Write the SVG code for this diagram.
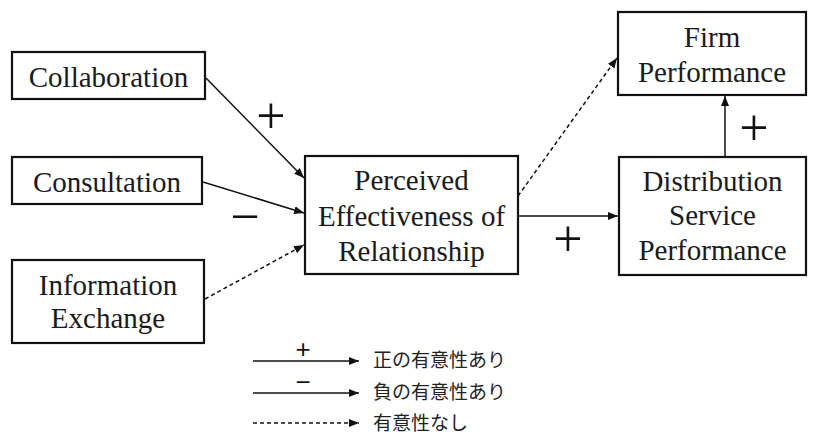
<svg xmlns="http://www.w3.org/2000/svg" width="824" height="434" viewBox="0 0 824 434">
  <style>
    .box { fill: #fff; stroke: #111; stroke-width: 2.2; }
    .lbl { font-family: 'Liberation Serif', 'Times New Roman', Times, serif; font-size: 29px; fill: #1a1a1a; text-anchor: middle; }
    .sign { font-family: 'Liberation Serif', 'Times New Roman', Times, serif; font-size: 52px; fill: #111; text-anchor: middle; }
    .edge { stroke: #111; stroke-width: 1.5; fill: none; }
    .dash { stroke-dasharray: 4 3; }
    .leg { font-family: 'Noto Sans CJK JP', 'Noto Sans', sans-serif; font-size: 19px; fill: #222; }
    .legsign { font-family: 'Liberation Sans', Arial, sans-serif; font-size: 26px; fill: #111; text-anchor: middle; }
  </style>
  <defs>
    <marker id="arrow" viewBox="0 0 10 10" refX="10" refY="5" markerWidth="10" markerHeight="10" markerUnits="userSpaceOnUse" orient="auto">
      <path d="M0,1 L10,5 L0,9 Z" fill="#111"/>
    </marker>
  </defs>

  <g id="collaboration">
    <rect class="box" x="12" y="52" width="193" height="47"/>
    <text class="lbl" x="108.5" y="87">Collaboration</text>
  </g>
  <g id="consultation">
    <rect class="box" x="12" y="157" width="190" height="47"/>
    <text class="lbl" x="107" y="192">Consultation</text>
  </g>
  <g id="information-exchange">
    <rect class="box" x="12" y="260" width="192" height="83"/>
    <text class="lbl" x="108" y="295">Information</text>
    <text class="lbl" x="108" y="328">Exchange</text>
  </g>
  <g id="perceived-effectiveness">
    <rect class="box" x="305" y="156" width="213" height="118"/>
    <text class="lbl" x="411.5" y="190">Perceived</text>
    <text class="lbl" x="411.5" y="226">Effectiveness of</text>
    <text class="lbl" x="411.5" y="261">Relationship</text>
  </g>
  <g id="firm-performance">
    <rect class="box" x="618" y="12" width="188" height="83"/>
    <text class="lbl" x="712" y="47">Firm</text>
    <text class="lbl" x="712" y="82">Performance</text>
  </g>
  <g id="distribution-service-performance">
    <rect class="box" x="619" y="157" width="187" height="118"/>
    <text class="lbl" x="712.5" y="191">Distribution</text>
    <text class="lbl" x="712.5" y="225">Service</text>
    <text class="lbl" x="712.5" y="260">Performance</text>
  </g>

  <g id="connectors">
    <line class="edge" x1="206" y1="78" x2="304" y2="178" marker-end="url(#arrow)"/>
    <line class="edge" x1="203" y1="182" x2="304" y2="213" marker-end="url(#arrow)"/>
    <line class="edge dash" x1="205" y1="299" x2="304" y2="245" marker-end="url(#arrow)"/>
    <line class="edge" x1="518" y1="216" x2="618" y2="216" marker-end="url(#arrow)"/>
    <line class="edge dash" x1="518" y1="196" x2="617" y2="58" marker-end="url(#arrow)"/>
    <line class="edge" x1="725" y1="157" x2="725" y2="96" marker-end="url(#arrow)"/>
  </g>

  <g id="signs">
    <text class="sign" x="271" y="133">+</text>
    <text class="sign" x="245" y="234">−</text>
    <text class="sign" x="568" y="256">+</text>
    <text class="sign" x="754" y="145">+</text>
  </g>

  <g id="legend">
    <line class="edge" x1="253" y1="361" x2="359" y2="361" marker-end="url(#arrow)"/>
    <text class="legsign" x="303" y="358">+</text>
    <text class="leg" x="373" y="367">正の有意性あり</text>
    <line class="edge" x1="253" y1="393" x2="359" y2="393" marker-end="url(#arrow)"/>
    <text class="legsign" x="303" y="391">−</text>
    <text class="leg" x="373" y="399">負の有意性あり</text>
    <line class="edge dash" x1="253" y1="423" x2="359" y2="423" marker-end="url(#arrow)"/>
    <text class="leg" x="373" y="430">有意性なし</text>
  </g>
</svg>
